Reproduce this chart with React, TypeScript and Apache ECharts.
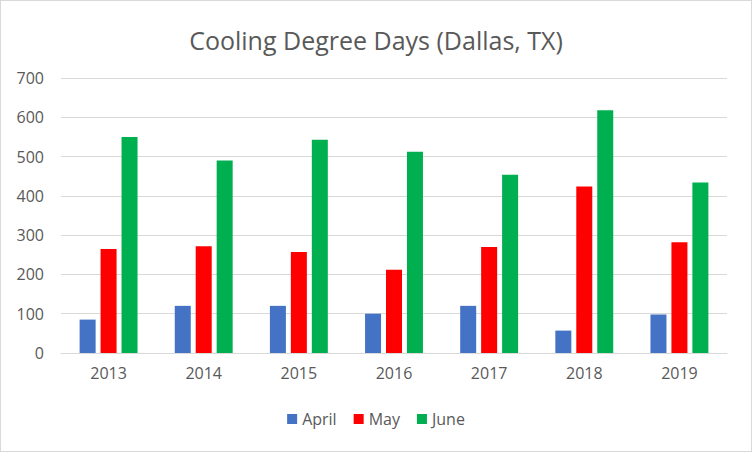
import React, { useEffect, useRef } from "react";
import * as echarts from "echarts";

const years = ["2013", "2014", "2015", "2016", "2017", "2018", "2019"];
const april = [85, 120, 120, 100, 120, 57, 98];
const may = [265, 272, 257, 212, 270, 424, 282];
const june = [550, 490, 543, 512, 454, 618, 434];
const yTicks = { min: 0, max: 700, interval: 100 };

const FONT = "'Open Sans', 'Noto Sans', sans-serif";

export default function App() {
  const ref = useRef<HTMLDivElement>(null);
  useEffect(() => {
    document.body.style.margin = "0";
    const chart = echarts.init(ref.current!, null, { renderer: "svg" });
    chart.setOption({
      animation: false,
      backgroundColor: "#ffffff",
      title: {
        text: "Cooling Degree Days (Dallas, TX)",
        left: "center",
        top: 21,
        textStyle: { fontFamily: FONT, fontSize: 25, fontWeight: "normal", color: "#595959" },
      },
      legend: {
        top: 405,
        left: "center",
        itemWidth: 10,
        itemHeight: 10,
        itemGap: 17,
        icon: "rect",
        textStyle: { fontFamily: FONT, fontSize: 16, color: "#595959" },
        data: ["April", "May", "June"],
      },
      grid: { left: 60, right: 24, top: 77, bottom: 98, containLabel: false },
      xAxis: {
        type: "category",
        data: years,
        axisTick: { show: false },
        axisLine: { lineStyle: { color: "#d9d9d9", width: 1 } },
        axisLabel: { fontFamily: FONT, fontSize: 16, color: "#595959", margin: 12 },
      },
      yAxis: {
        type: "value",
        min: yTicks.min,
        max: yTicks.max,
        interval: yTicks.interval,
        axisLine: { show: false },
        axisTick: { show: false },
        axisLabel: { fontFamily: FONT, fontSize: 16, color: "#595959", margin: 17 },
        splitLine: { lineStyle: { color: "#d9d9d9", width: 1 } },
      },
      series: [
        { name: "April", type: "bar", data: april, itemStyle: { color: "#4472C4" }, barWidth: 16, barGap: "31%" },
        { name: "May", type: "bar", data: may, itemStyle: { color: "#FF0000" }, barWidth: 16, barGap: "31%" },
        { name: "June", type: "bar", data: june, itemStyle: { color: "#00B050" }, barWidth: 16, barGap: "31%" },
      ],
    });
    return () => chart.dispose();
  }, []);
  return (
    <div
      ref={ref}
      style={{ width: 752, height: 452, boxSizing: "border-box", border: "1px solid #d9d9d9" }}
    />
  );
}
